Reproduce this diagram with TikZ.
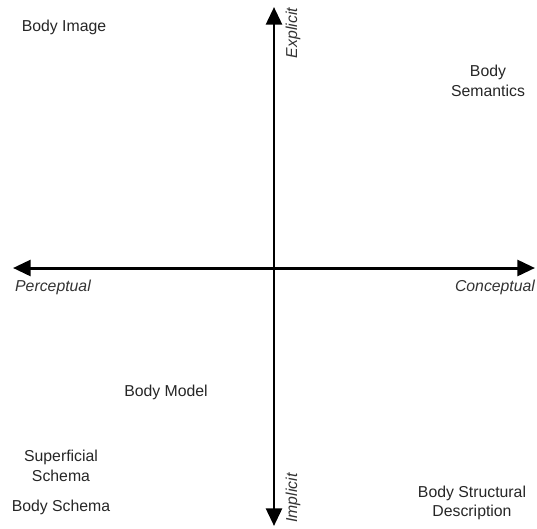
\documentclass[tikz,border=0pt]{standalone}
\usepackage{fontspec}
\setmainfont{Liberation Sans}
\usetikzlibrary{arrows.meta, positioning}

\begin{document}
\begin{tikzpicture}[
        x=0.02cm, y=-0.02cm,
        label/.style={font=\fontsize{9}{11}\selectfont, align=center, text=black!85},
        axislabel/.style={font=\fontsize{9}{11}\selectfont\itshape, text=black!80},
        axis/.style={{Triangle[length=10pt,width=9pt]}-{Triangle[length=10pt,width=9pt]}, line width=1.7pt}
    ]
        \useasboundingbox (0,0) rectangle (537,528);

        % Axis ends
        \coordinate (west) at (13,268);
        \coordinate (east) at (535,268);
        \coordinate (north) at (274,7);
        \coordinate (south) at (274,526);

        % Axes
        \draw[axis] (west) -- (east);
        \draw[axis] (south) -- (north);

        % Axis labels
        \node[axislabel] (perceptual) at (53,287) {Perceptual};
        \node[axislabel] (conceptual) at (495,287) {Conceptual};
        \node[axislabel, rotate=90] (explicit) at (293,33) {Explicit};
        \node[axislabel, rotate=90] (implicit) at (293,498) {Implicit};

        % Quadrant entries
        \node[label] (image) at (64,27) {Body Image};
        \node[label] (semantics) at (488,81) {Body\\Semantics};
        \node[label] (model) at (166,392) {Body Model};
        \node[label] (superficial) at (61,466) {Superficial\\Schema};
        \node[label] (schema) at (61,507) {Body Schema};
        \node[label] (structural) at (472,503) {Body Structural\\Description};
    \end{tikzpicture}
\end{document}
